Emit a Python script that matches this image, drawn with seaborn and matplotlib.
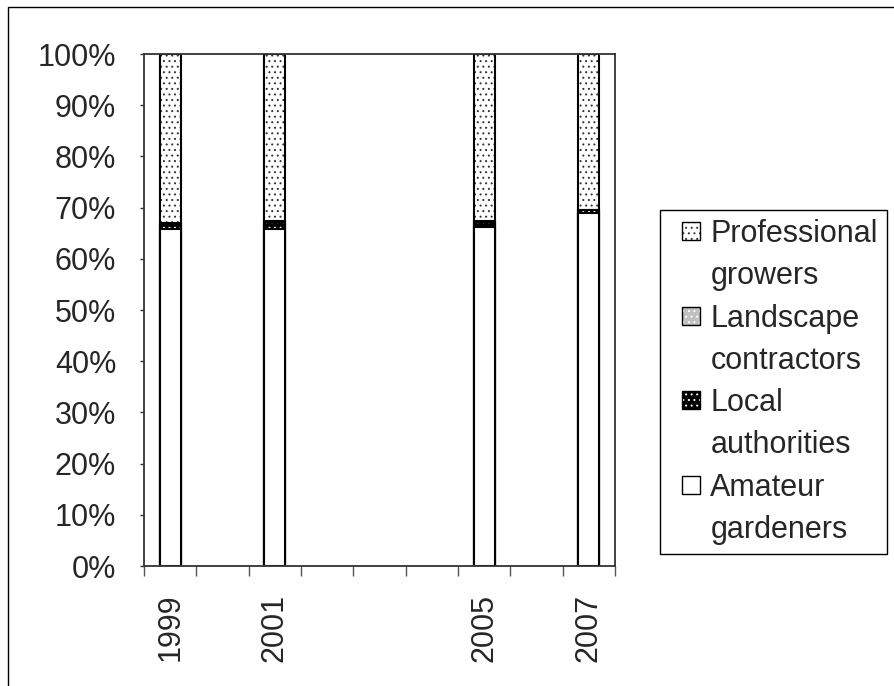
import numpy as np
import pandas as pd
import matplotlib
matplotlib.use("Agg")
import matplotlib.pyplot as plt
from matplotlib.patches import Patch, Rectangle
from matplotlib.legend_handler import HandlerPatch
import seaborn as sns

# Survey years on a yearly axis (gaps where no survey took place)
years = ["1999", "2000", "2001", "2002", "2003", "2004", "2005", "2006", "2007"]
survey_years = ["1999", "2001", "2005", "2007"]

# Share of sales by customer group, in percent
amateur = [65.8, 65.9, 66.3, 69.0]
local = [1.0, 1.2, 0.8, 0.5]
landscape = [0.2, 0.3, 0.2, 0.1]
professional = [33.0, 32.6, 32.7, 30.4]

series_names = ["Professional\ngrowers", "Landscape\ncontractors",
                "Local\nauthorities", "Amateur\ngardeners"]
tick_values = list(range(0, 101, 10))

sns.set_style("white")
plt.rcParams["font.family"] = ["Liberation Sans", "DejaVu Sans"]
plt.rcParams["hatch.linewidth"] = 0.7

df = pd.DataFrame({"year": survey_years})
stack = np.cumsum(np.array([amateur, local, landscape, professional]), axis=0)
df["amateur_top"] = stack[0]
df["local_top"] = stack[1]
df["landscape_top"] = stack[2]
df["professional_top"] = stack[3]

fig = plt.figure(figsize=(8.95, 6.86), dpi=100)
ax = fig.add_axes([144 / 895, 120 / 686, 471 / 895, 512 / 686])

EDGE_LW = 1.5
DOTS = "..."
# (column, face colour, dot colour, hatch) drawn back to front
layers = [
    ("professional_top", "white", "#333333", DOTS),
    ("landscape_top", "#c0c0c0", "white", DOTS),
    ("local_top", "black", "white", DOTS),
    ("amateur_top", "white", None, None),
]

for col, face, dot, hatch in layers:
    sns.barplot(data=df, x="year", y=col, order=years, width=0.4,
                color=face, saturation=1, edgecolor="black",
                linewidth=EDGE_LW, errorbar=None, ax=ax)
    container = ax.containers[-1]
    if hatch is not None:
        for bar in container:
            bar.set_hatch(hatch)
            bar.set_edgecolor(dot)
            bar.set_linewidth(0)
            ax.add_patch(Rectangle(bar.get_xy(), bar.get_width(), bar.get_height(),
                                   fill=False, edgecolor="black",
                                   linewidth=EDGE_LW, zorder=bar.get_zorder()))

ax.set_xlim(-0.5, len(years) - 0.5)
ax.set_ylim(0, 100)
ax.set_xlabel("")
ax.set_ylabel("")

# y axis: percentages
ax.set_yticks(tick_values)
ax.set_yticklabels([f"{v}%" for v in tick_values], fontsize=22)
ax.tick_params(axis="y", which="major", left=True, length=3, width=1,
               color="#333333", pad=17)

# x axis: ticks between years, labels only on survey years
ax.set_xticks(np.arange(-0.5, len(years), 1.0))
ax.set_xticklabels([])
ax.tick_params(axis="x", which="major", bottom=True, length=7, width=1,
               color="#555555")
ax.set_xticks([years.index(y) for y in survey_years], minor=True)
ax.set_xticklabels(survey_years, minor=True, rotation=90, fontsize=22)
ax.tick_params(axis="x", which="minor", bottom=True, length=0, pad=20)

for side in ["left", "right", "top", "bottom"]:
    ax.spines[side].set_visible(True)
    ax.spines[side].set_color("#333333")
    ax.spines[side].set_linewidth(1.3)
ax.grid(False)

# Legend: one row per text line, swatch beside the first line of each entry
fills = {
    "Professional\ngrowers": ("white", "#333333", DOTS),
    "Landscape\ncontractors": ("#c0c0c0", "white", DOTS),
    "Local\nauthorities": ("black", "white", DOTS),
    "Amateur\ngardeners": ("white", None, None),
}
SWATCH_PX = 18


def right_square(legend, orig_handle, xdescent, ydescent, width, height, fontsize):
    size = SWATCH_PX * 72 / fig.dpi
    return Rectangle((-xdescent + width - size, -ydescent + (height - size) / 2),
                     size, size)


blank = Patch(facecolor="none", edgecolor="none")
handles, labels = [], []
for name in series_names:
    face, dot, hatch = fills[name]
    outline = Patch(facecolor="none", edgecolor="black", linewidth=1.0)
    if hatch is not None:
        swatch = (Patch(facecolor=face, edgecolor=dot, hatch=hatch, linewidth=0), outline)
    else:
        swatch = (Patch(facecolor=face, edgecolor="none"), outline)
    first, second = name.split("\n")
    handles += [swatch, blank]
    labels += [first, second]

leg = fig.legend(handles, labels, loc="upper left",
                 bbox_to_anchor=(660 / 895, 1 - 210 / 686),
                 frameon=True, fancybox=False, shadow=False,
                 fontsize=22, handlelength=1.0, handleheight=0.6,
                 handletextpad=0.35, labelspacing=0.4, borderpad=0.3,
                 borderaxespad=0,
                 handler_map={Patch: HandlerPatch(patch_func=right_square)})
leg.get_frame().set_edgecolor("black")
leg.get_frame().set_linewidth(1.0)
leg.get_frame().set_alpha(None)

# Chart area border
fig.add_artist(Rectangle((8 / 895, -0.1), 1.2, 1.1 - 7 / 686, fill=False,
                         edgecolor="black", linewidth=1.0,
                         transform=fig.transFigure))

fig.savefig("out.png", dpi=100)
